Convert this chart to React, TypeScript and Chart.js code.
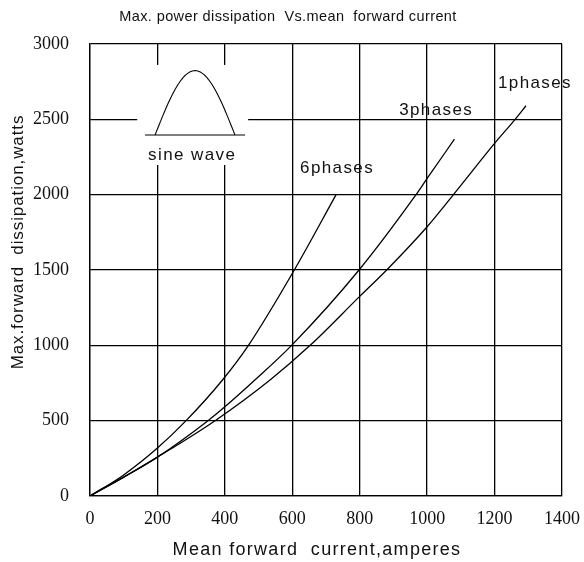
import React, { useEffect, useRef } from "react";
import { Chart, registerables } from "chart.js";

Chart.register(...registerables);

// ---- data ----
const X_MIN = 0;
const X_MAX = 1400;
const X_STEP = 200;
const Y_MIN = 0;
const Y_MAX = 3000;
const Y_STEP = 500;

const phase6X = [0, 100, 200, 285, 393, 470, 606, 730];
const phase6Y = [0, 140, 318, 500, 770, 1000, 1500, 2000];

const phase3X = [0, 100, 200, 350, 400, 489, 598, 798, 967, 1000, 1081];
const phase3Y = [0, 125, 258, 500, 592, 770, 1000, 1500, 2000, 2108, 2368];

const phase1X = [0, 100, 200, 371, 534, 653, 800, 880, 1000, 1078, 1200, 1261, 1293];
const phase1Y = [0, 125, 258, 500, 770, 1000, 1325, 1500, 1787, 2000, 2340, 2500, 2590];

const seriesNames = ["6phases", "3phases", "1phases"];
// label anchors in data units (left, middle)
const labelX = [623, 917, 1210];
const labelY = [2177, 2562, 2741];

const TITLE = "Max. power dissipation  Vs.mean  forward current";
const X_TITLE = "Mean forward  current,amperes";
const Y_TITLE = "Max.forward  dissipation,watts";
const INSET_TEXT = "sine wave";

// inset (sine wave icon) in data units
const insetBox = { x0: 140, x1: 469, y0: 2197, y1: 2861 };
const insetBase = { x0: 163, x1: 460, y: 2396 };
const insetHump = { x0: 193, x1: 430, peak: 2823 };
const insetTextPos = { x: 303, y: 2263 };

const toPts = (xs: number[], ys: number[]) => xs.map((x, i) => ({ x, y: ys[i] }));

const SANS = '"Liberation Sans", Arial, sans-serif';
const SERIF = '"Liberation Serif", "Times New Roman", serif';

const textPlugin = {
  id: "customText",
  afterDraw(chart: any) {
    const ctx = chart.ctx as CanvasRenderingContext2D;
    const xs = chart.scales.x;
    const ys = chart.scales.y;
    const px = (v: number) => xs.getPixelForValue(v);
    const py = (v: number) => ys.getPixelForValue(v);

    ctx.save();
    // inset white box
    ctx.fillStyle = "#ffffff";
    ctx.fillRect(
      px(insetBox.x0),
      py(insetBox.y1),
      px(insetBox.x1) - px(insetBox.x0),
      py(insetBox.y0) - py(insetBox.y1)
    );
    ctx.strokeStyle = "#000";
    ctx.lineWidth = 1.1;
    ctx.beginPath();
    ctx.moveTo(px(insetBase.x0), py(insetBase.y));
    ctx.lineTo(px(insetBase.x1), py(insetBase.y));
    ctx.stroke();
    ctx.beginPath();
    const n = 60;
    for (let i = 0; i <= n; i++) {
      const t = i / n;
      const xv = insetHump.x0 + (insetHump.x1 - insetHump.x0) * t;
      const yv = insetBase.y + (insetHump.peak - insetBase.y) * Math.sin(Math.PI * t);
      if (i === 0) ctx.moveTo(px(xv), py(yv));
      else ctx.lineTo(px(xv), py(yv));
    }
    ctx.stroke();

    ctx.fillStyle = "#111";
    (ctx as any).letterSpacing = "1.4px";
    ctx.font = `17px ${SANS}`;
    ctx.textBaseline = "middle";
    ctx.textAlign = "center";
    ctx.fillText(INSET_TEXT, px(insetTextPos.x), py(insetTextPos.y));

    ctx.textAlign = "left";
    seriesNames.forEach((s, i) => {
      ctx.fillText(s, px(labelX[i]), py(labelY[i]));
    });

    // axis titles
    ctx.textAlign = "center";
    (ctx as any).letterSpacing = "1.3px";
    ctx.font = `18px ${SANS}`;
    ctx.fillText(X_TITLE, 317, 550);

    ctx.save();
    ctx.translate(18, 242);
    ctx.rotate(-Math.PI / 2);
    ctx.font = `17px ${SANS}`;
    (ctx as any).letterSpacing = "0.9px";
    ctx.fillText(Y_TITLE, 0, 0);
    ctx.restore();

    // chart title
    (ctx as any).letterSpacing = "0.4px";
    ctx.font = `14.5px ${SANS}`;
    ctx.fillText(TITLE, 288, 17);
    ctx.restore();
  },
};

export default function App() {
  const ref = useRef<HTMLCanvasElement | null>(null);

  useEffect(() => {
    if (!ref.current) return;
    const lineStyle = {
      borderColor: "#000",
      borderWidth: 1.3,
      pointRadius: 0,
      fill: false,
      cubicInterpolationMode: "monotone" as const,
    };
    const chart = new Chart(ref.current, {
      type: "line",
      data: {
        datasets: [
          { label: seriesNames[0], data: toPts(phase6X, phase6Y), ...lineStyle },
          { label: seriesNames[1], data: toPts(phase3X, phase3Y), ...lineStyle },
          { label: seriesNames[2], data: toPts(phase1X, phase1Y), ...lineStyle },
        ],
      },
      options: {
        animation: false,
        responsive: false,
        layout: { padding: { top: 44, right: 22, left: 0, bottom: 0 } },
        plugins: {
          legend: { display: false },
          title: { display: false },
          tooltip: { enabled: false },
        },
        scales: {
          x: {
            type: "linear",
            min: X_MIN,
            max: X_MAX,
            afterFit: (s: any) => {
              s.height = 66;
              s.paddingLeft = 0;
              s.paddingRight = 0;
            },
            ticks: {
              stepSize: X_STEP,
              color: "#111",
              padding: 12,
              font: { family: SERIF, size: 18 },
              maxRotation: 0,
              callback: (v: any) => String(v),
            },
            grid: { color: "#000", lineWidth: 1.3, drawTicks: false },
            border: { color: "#000", width: 1.3 },
          },
          y: {
            type: "linear",
            min: Y_MIN,
            max: Y_MAX,
            afterFit: (s: any) => {
              s.width = 90;
              s.paddingTop = 0;
              s.paddingBottom = 0;
            },
            ticks: {
              stepSize: Y_STEP,
              color: "#111",
              padding: 21,
              font: { family: SERIF, size: 18 },
              callback: (v: any) => String(v),
            },
            grid: { color: "#000", lineWidth: 1.3, drawTicks: false },
            border: { color: "#000", width: 1.3 },
          },
        },
      },
      plugins: [textPlugin],
    });
    return () => chart.destroy();
  }, []);

  return (
    <div style={{ position: "fixed", left: 0, top: 0, width: 584, height: 562, background: "#fff" }}>
      <canvas ref={ref} width={584} height={562} style={{ display: "block" }} />
    </div>
  );
}
